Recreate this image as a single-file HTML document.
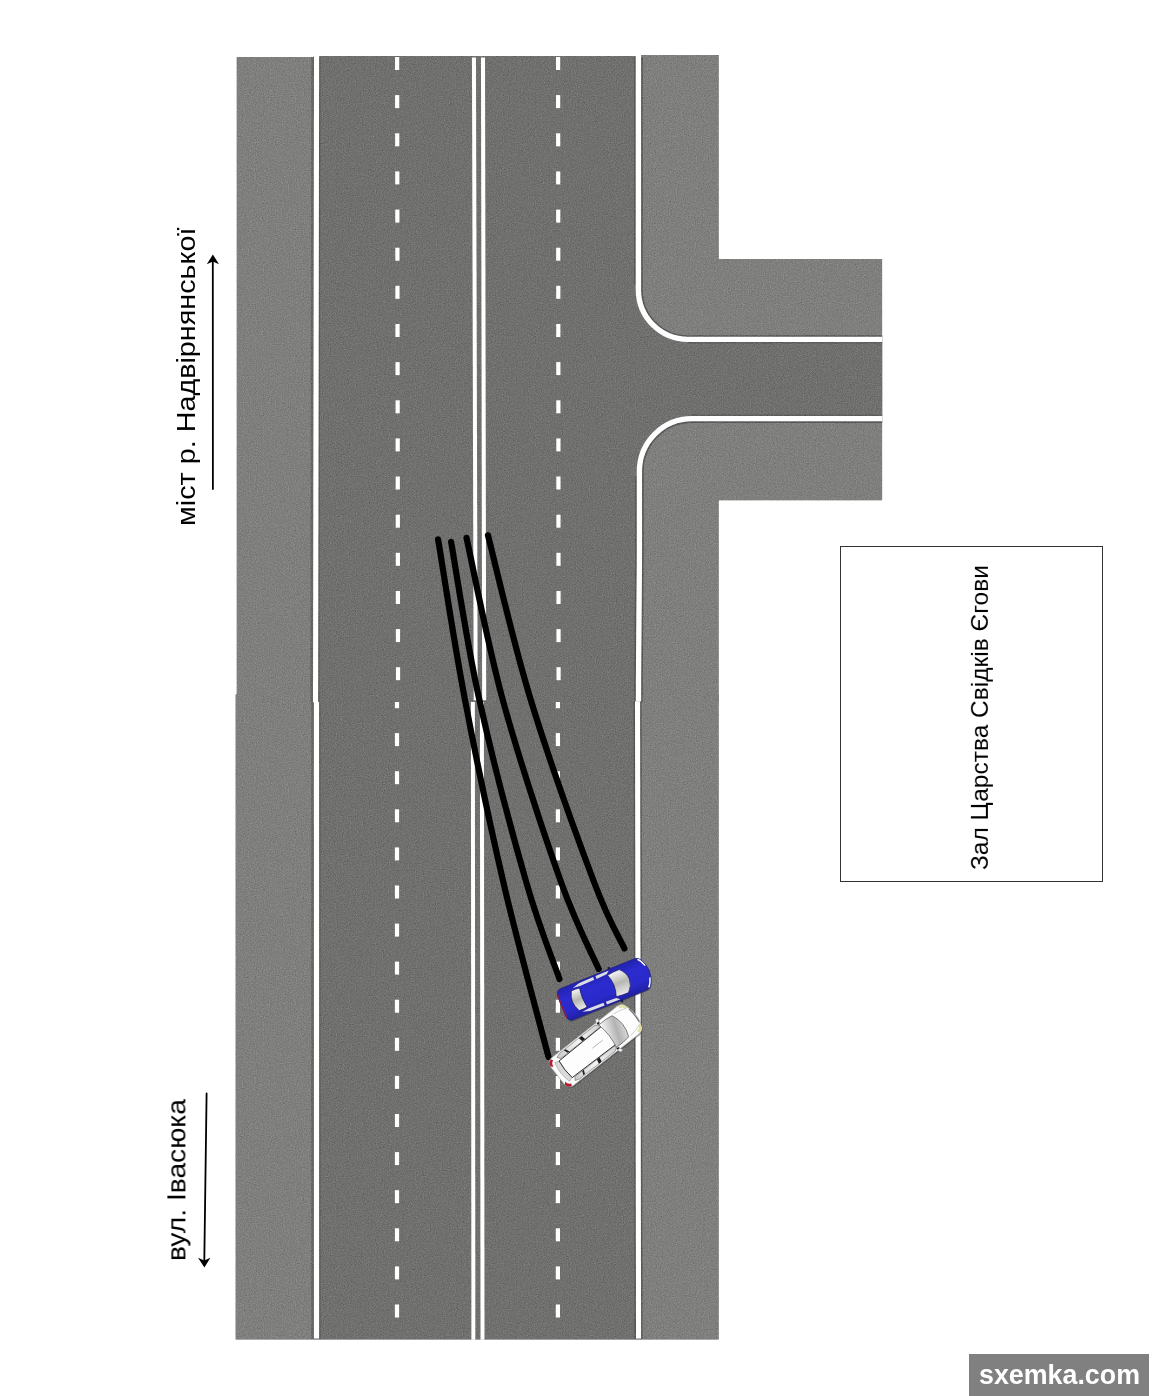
<!DOCTYPE html>
<html lang="uk">
<head>
<meta charset="utf-8">
<title>Схема ДТП</title>
<style>
html,body{margin:0;padding:0;background:#fff;}
body{width:1154px;height:1396px;overflow:hidden;font-family:"Liberation Sans",sans-serif;}
svg{display:block;}
</style>
</head>
<body>
<svg width="1154" height="1396" viewBox="0 0 1154 1396">
<rect width="1154" height="1396" fill="#fff"/>
<defs>
<filter id="grain" x="0" y="0" width="100%" height="100%" filterUnits="objectBoundingBox" color-interpolation-filters="sRGB">
<feTurbulence type="fractalNoise" baseFrequency="0.85" numOctaves="2" seed="7" stitchTiles="noStitch" result="n"/>
<feColorMatrix in="n" type="matrix" values="0.6 0.6 0 0 -0.1  0.6 0.6 0 0 -0.1  0.6 0.6 0 0 -0.1  0 0 0 0 1" result="g"/>
<feComposite in="SourceGraphic" in2="g" operator="arithmetic" k1="0" k2="1" k3="0.25" k4="-0.125" result="c"/>
<feComposite in="c" in2="SourceGraphic" operator="in"/>
</filter>
</defs>
<g id="asphalt" filter="url(#grain)">
<rect x="235.4" y="694.3" width="79" height="645.4" fill="#7f7f7e"/>
<rect x="314" y="700" width="327" height="639.7" fill="#70706f"/>
<rect x="640.5" y="694" width="78.3" height="645.7" fill="#7f7f7e"/>
<rect x="236.5" y="57" width="78" height="638" fill="#7f7f7e"/>
<rect x="313.5" y="56" width="328" height="646" fill="#70706f"/>
<path d="M641 55 H718.8 V259 H882.3 V500.4 H718.8 V702 H641 Z" fill="#7f7f7e"/>
<path d="M636 285 H641.5 V290 A46.5 46.5 0 0 0 688 336.7 H882.3 V421.3 H692 A50 50 0 0 0 642 471 V476 H636 Z" fill="#70706f"/>
<g fill="none" stroke="#555553" stroke-width="1.4" opacity="0.9">
<path d="M312.80 57 L311.80 702 M312.70 702 L312.75 1339" stroke-width="3" opacity="0.62"/>
<path d="M319.65 57 L318.65 702 M319.60 702 L319.65 1339" stroke-width="1.6"/>
<path d="M635 57 V285 M634.40 702 L635.40 1339 M640.70 702 L641.70 1339 M636 476 V560 L635.1 680 V702" stroke-width="1.8"/>
<path d="M641.9 57 V290 A46.1 46.1 0 0 0 688 336.1 H882.3" stroke-width="1.8"/>
<path d="M882.3 422.1 H692 A49.2 49.2 0 0 0 642.8 471.3 V560 L641.9 680 V702" stroke-width="1.8"/>
<path d="M688 342.7 H882.3 M692 415.3 H882.3" opacity="0.7"/>
</g>
</g>
<g id="lines" fill="#ffffff">
<path d="M313.90 702 H319.10 L319.15 1338.5 H313.95 Z"/>
<path d="M470.90 702 H474.85 L475.35 1339.7 H471.40 Z"/>
<path d="M479.90 702 H483.90 L484.50 1339.7 H480.50 Z"/>
<path d="M635.00 701.2 H640.10 L641.10 1338.5 H636.00 Z"/>
<path d="M314.00 56 H319.15 L318.15 702.2 H313.00 Z"/>
<path d="M471.95 57.5 H475.95 L477.70 700.2 H473.70 Z"/>
<path d="M480.97 57.5 H485.02 L486.21 700.2 H482.16 Z"/>
<path d="M638.4 56 V290 A49.6 49.6 0 0 0 688 339.4 H882.3" fill="none" stroke="#ffffff" stroke-width="5.4"/>
<path d="M882.3 418.7 H692 A52.6 52.6 0 0 0 639.4 471.3 V560 L638.5 680 V701.2" fill="none" stroke="#ffffff" stroke-width="5.3"/>
</g>
<g id="dashes" fill="#ffffff">
<rect x="395.00" y="57.0" width="4.2" height="13"/>
<rect x="395.06" y="95.1" width="4.2" height="13"/>
<rect x="395.12" y="133.3" width="4.2" height="13"/>
<rect x="395.18" y="171.4" width="4.2" height="13"/>
<rect x="395.24" y="209.6" width="4.2" height="13"/>
<rect x="395.30" y="247.7" width="4.2" height="13"/>
<rect x="395.36" y="285.8" width="4.2" height="13"/>
<rect x="395.42" y="324.0" width="4.2" height="13"/>
<rect x="395.48" y="362.1" width="4.2" height="13"/>
<rect x="395.54" y="400.3" width="4.2" height="13"/>
<rect x="395.60" y="438.4" width="4.2" height="13"/>
<rect x="395.66" y="476.5" width="4.2" height="13"/>
<rect x="395.72" y="514.7" width="4.2" height="13"/>
<rect x="395.77" y="552.8" width="4.2" height="13"/>
<rect x="395.83" y="591.0" width="4.2" height="13"/>
<rect x="395.89" y="629.1" width="4.2" height="13"/>
<rect x="395.95" y="667.2" width="4.2" height="13"/>
<rect x="394.9" y="702" width="4.2" height="6.2"/>
<rect x="394.9" y="733.1" width="4.2" height="13"/>
<rect x="394.9" y="771.2" width="4.2" height="13"/>
<rect x="394.9" y="809.3" width="4.2" height="13"/>
<rect x="394.9" y="847.4" width="4.2" height="13"/>
<rect x="394.9" y="885.5" width="4.2" height="13"/>
<rect x="394.9" y="923.6" width="4.2" height="13"/>
<rect x="394.9" y="961.6" width="4.2" height="13"/>
<rect x="394.9" y="999.7" width="4.2" height="13"/>
<rect x="394.9" y="1037.8" width="4.2" height="13"/>
<rect x="394.9" y="1075.9" width="4.2" height="13"/>
<rect x="394.9" y="1114.0" width="4.2" height="13"/>
<rect x="394.9" y="1152.1" width="4.2" height="13"/>
<rect x="394.9" y="1190.2" width="4.2" height="13"/>
<rect x="394.9" y="1228.3" width="4.2" height="13"/>
<rect x="394.9" y="1266.4" width="4.2" height="13"/>
<rect x="394.9" y="1304.5" width="4.2" height="13"/>
<rect x="556.00" y="57.0" width="4.2" height="13"/>
<rect x="556.03" y="95.1" width="4.2" height="13"/>
<rect x="556.06" y="133.3" width="4.2" height="13"/>
<rect x="556.09" y="171.4" width="4.2" height="13"/>
<rect x="556.12" y="209.6" width="4.2" height="13"/>
<rect x="556.15" y="247.7" width="4.2" height="13"/>
<rect x="556.18" y="285.8" width="4.2" height="13"/>
<rect x="556.21" y="324.0" width="4.2" height="13"/>
<rect x="556.24" y="362.1" width="4.2" height="13"/>
<rect x="556.27" y="400.3" width="4.2" height="13"/>
<rect x="556.30" y="438.4" width="4.2" height="13"/>
<rect x="556.33" y="476.5" width="4.2" height="13"/>
<rect x="556.36" y="514.7" width="4.2" height="13"/>
<rect x="556.39" y="552.8" width="4.2" height="13"/>
<rect x="556.42" y="591.0" width="4.2" height="13"/>
<rect x="556.45" y="629.1" width="4.2" height="13"/>
<rect x="556.48" y="667.2" width="4.2" height="13"/>
<rect x="555.8" y="702" width="4.2" height="6.2"/>
<rect x="555.8" y="733.1" width="4.2" height="13"/>
<rect x="555.8" y="771.2" width="4.2" height="13"/>
<rect x="555.8" y="809.3" width="4.2" height="13"/>
<rect x="555.8" y="847.4" width="4.2" height="13"/>
<rect x="555.8" y="885.5" width="4.2" height="13"/>
<rect x="555.8" y="923.6" width="4.2" height="13"/>
<rect x="555.8" y="961.6" width="4.2" height="13"/>
<rect x="555.8" y="999.7" width="4.2" height="13"/>
<rect x="555.8" y="1037.8" width="4.2" height="13"/>
<rect x="555.8" y="1075.9" width="4.2" height="13"/>
<rect x="555.8" y="1114.0" width="4.2" height="13"/>
<rect x="555.8" y="1152.1" width="4.2" height="13"/>
<rect x="555.8" y="1190.2" width="4.2" height="13"/>
<rect x="555.8" y="1228.3" width="4.2" height="13"/>
<rect x="555.8" y="1266.4" width="4.2" height="13"/>
<rect x="555.8" y="1304.5" width="4.2" height="13"/>
</g>
<g id="skids" fill="none" stroke="#000" stroke-width="6.2" stroke-linecap="round">
<path d="M438.1 539.3 C442.6 566.1 454.0 642.4 465.0 700.0 C476.0 757.6 490.1 825.5 504.0 885.0 C517.9 944.5 541.1 1028.3 548.5 1057.0"/>
<path d="M451.1 541.8 C455.8 568.2 466.8 643.1 479.4 700.0 C492.0 756.9 513.1 836.5 526.5 883.0 C539.9 929.5 554.0 963.0 559.5 979.0"/>
<path d="M466.5 537.8 C472.6 564.8 487.1 642.6 502.8 700.0 C518.5 757.4 545.0 837.2 561.0 882.0 C577.0 926.8 592.4 954.5 598.7 969.0"/>
<path d="M488.0 535.3 C495.1 562.8 513.1 642.2 530.8 700.0 C548.5 757.8 578.4 840.6 594.0 882.0 C609.6 923.4 619.3 937.4 624.4 948.5"/>
</g>
<defs>
<linearGradient id="gl1" x1="0" y1="0" x2="0" y2="1">
<stop offset="0" stop-color="#f6f6f6"/><stop offset="0.5" stop-color="#b6b6b2"/><stop offset="1" stop-color="#ececec"/>
</linearGradient>
<linearGradient id="gl2" x1="0" y1="0" x2="1" y2="0.6">
<stop offset="0" stop-color="#ffffff"/><stop offset="0.65" stop-color="#b2b2b2"/><stop offset="1" stop-color="#d4d4d4"/>
</linearGradient>
<linearGradient id="gl3" x1="0" y1="0" x2="0" y2="1">
<stop offset="0" stop-color="#2222ac"/><stop offset="0.3" stop-color="#2b2bcf"/><stop offset="0.7" stop-color="#2a2acb"/><stop offset="1" stop-color="#2020a4"/>
</linearGradient>
<linearGradient id="gl4" x1="0" y1="0" x2="1" y2="0">
<stop offset="0" stop-color="#c9c9c9"/><stop offset="0.5" stop-color="#f4f4f4"/><stop offset="1" stop-color="#cfcfcf"/>
</linearGradient>
</defs>
<g id="car-blue" transform="translate(604.9 988.8) rotate(-22)">
<path d="M-42 -16.8 H38.5 Q42.6 -16.6 44.4 -13 Q47.9 -6 47.9 0 Q47.9 6 44.4 13 Q42.6 16.6 38.5 16.8 H-42 Q-46 16.2 -46.6 10 V-10 Q-46 -16.2 -42 -16.8 Z" fill="#33334d" opacity="0.5" transform="translate(0.1 1.2)"/>
<path d="M-42 -16.8 H38.5 Q42.6 -16.6 44.4 -13 Q47.9 -6 47.9 0 Q47.9 6 44.4 13 Q42.6 16.6 38.5 16.8 H-42 Q-46 16.2 -46.6 10 V-10 Q-46 -16.2 -42 -16.8 Z" fill="url(#gl3)" stroke="#24247c" stroke-width="0.7"/>
<path d="M-46 -13 Q-47 0 -46 13" fill="none" stroke="#8c1f45" stroke-width="1.4"/>
<path d="M7.5 -11.6 Q15 -12.8 20.5 -12.4 Q26.2 -7 26.4 0 Q26.2 7 20.5 12.4 Q15 12.8 7.5 11.6 Q12 0 7.5 -11.6 Z" fill="url(#gl1)" stroke="#1c1c6a" stroke-width="0.7"/>
<path d="M-23.3 -10.3 Q-28 -10.9 -32 -10.6 Q-35 -5 -35 0 Q-35 5 -32 10.6 Q-28 10.9 -23.3 10.3 Q-25.2 0 -23.3 -10.3 Z" fill="url(#gl1)" stroke="#1c1c6a" stroke-width="0.7"/>
<path d="M-29.5 -12.8 L-22 -15 L-6.5 -15.4 L-6.5 -12.3 L-22 -12 Z M-4 -15.4 L10.5 -15.6 L7 -12.8 L-4 -12.3 Z" fill="#dcdce6"/>
<path d="M-29.5 12.8 L-22 15 L-6.5 15.4 L-6.5 12.3 L-22 12 Z M-4 15.4 L10.5 15.6 L7 12.8 L-4 12.3 Z" fill="#dcdce6"/>
<path d="M41.6 -15.6 Q44.8 -13 46.6 -6.5 L45.3 -6.2 Q43.6 -12 40.7 -14.6 Z" fill="#fff"/>
<path d="M41.6 15.6 Q44.8 13 46.6 6.5 L45.3 6.2 Q43.6 12 40.7 14.6 Z" fill="#fff"/>
<path d="M9.5 -16.4 l1.2 -2.6 l2 0.3 l-0.6 2.6 Z M9.5 16.4 l1.2 2.6 l2 -0.3 l-0.6 -2.6 Z" fill="#1a1a50"/>
</g>
<g id="car-white" transform="translate(596.6 1044.9) rotate(-38.2) scale(1.08 1.08)">
<path d="M-41 -16.3 H37 Q41.6 -16 43 -13 Q45.8 -5 45.8 0 Q45.8 5 43 13 Q41.6 16 37 16.3 H-41 Q-45.5 15.3 -46 9 V-9 Q-45.5 -15.3 -41 -16.3 Z" fill="#303030" opacity="0.45" transform="translate(0 1.3)"/>
<path d="M-41 -16.3 H37 Q41.6 -16 43 -13 Q45.8 -5 45.8 0 Q45.8 5 43 13 Q41.6 16 37 16.3 H-41 Q-45.5 15.3 -46 9 V-9 Q-45.5 -15.3 -41 -16.3 Z" fill="#fdfdfd" stroke="#b4b4b4" stroke-width="0.6"/>
<path d="M-45.8 -11 Q-45.4 -15 -41.5 -15.8 L-40.5 -13.4 Q-43.6 -12.8 -44 -8.6 Z" fill="#b01c30"/>
<path d="M-45.8 11 Q-45.4 15 -41.5 15.8 L-40.5 13.4 Q-43.6 12.8 -44 8.6 Z" fill="#b01c30"/>
<path d="M38.5 -16 Q41.6 -15.5 42.8 -12.6 L44.2 -8.6 L41.8 -9.6 Q40.6 -12.8 37.2 -13.4 Z" fill="#e3e1a8"/>
<path d="M38.5 16 Q41.6 15.5 42.8 12.6 L44.2 8.6 L41.8 9.6 Q40.6 12.8 37.2 13.4 Z" fill="#e3e1a8"/>
<path d="M44.2 -7.5 Q45.4 0 44.2 7.5" fill="none" stroke="#777" stroke-width="1.2"/>
<path d="M13 -13.2 Q22 -13.8 28 -12.4 Q33.6 0 28 12.4 Q22 13.8 13 13.2 Q16 0 13 -13.2 Z" fill="url(#gl2)" stroke="#444" stroke-width="0.55"/>
<path d="M-40.5 -11 Q-43.8 0 -40.5 11 L-36.5 9.6 Q-38.6 0 -36.5 -9.6 Z" fill="#dadada" stroke="#777" stroke-width="0.4"/>
<path d="M-36 -13.6 L-32 -15 L10 -15.2 L13 -13.2 L12 -11 L-34 -10.6 Z" fill="url(#gl4)" stroke="#555" stroke-width="0.45"/>
<path d="M-36 13.6 L-32 15 L10 15.2 L13 13.2 L12 11 L-34 10.6 Z" fill="url(#gl4)" stroke="#555" stroke-width="0.45"/>
<path d="M-36.5 -9.8 L13.5 -10.6 M-36.5 9.8 L13.5 10.6 M-36.5 -9.8 Q-38 0 -36.5 9.8" fill="none" stroke="#2a2a2a" stroke-width="0.8"/>
<path d="M-9 -15 l3.2 0 l0.8 4.2 l-3.2 0 Z M-9 15 l3.2 0 l0.8 -4.2 l-3.2 0 Z M-27 -14.6 l1.8 0 l1.6 3.8 l-1.8 0 Z M-27 14.6 l1.8 0 l1.6 -3.8 l-1.8 0 Z" fill="#1e1e1e"/>
<path d="M12 -15.8 l1.6 -3.2 l2.8 0.5 l-1.4 3 Z M12 15.8 l1.6 3.2 l2.8 -0.5 l-1.4 -3 Z" fill="#efefef" stroke="#888" stroke-width="0.3"/>
<path d="M12.5 -15.6 l2.6 0 l-0.4 1.6 l-2.4 0.2 Z M12.5 15.6 l2.6 0 l-0.4 -1.6 l-2.4 -0.2 Z" fill="#222"/>
<path d="M-5 0 H7" stroke="#8a8a8a" stroke-width="0.5"/>
<path d="M30 -12.8 Q37 -11.8 42.4 -10 M30 12.8 Q37 11.8 42.4 10" fill="none" stroke="#999" stroke-width="0.4"/>
</g>

<g id="labels" font-family="Liberation Sans, sans-serif" fill="#000" opacity="0.999">
<text transform="translate(195 526) rotate(-90) scale(1.0895 1)" font-size="26.4">міст р. Надвірнянської</text>
<text transform="translate(185.4 1261) rotate(-90) scale(1.089 1)" font-size="25.9">вул. Івасюка</text>
<text transform="translate(987.9 870) rotate(-90) scale(1.0565 1)" font-size="23.2">Зал Царства Свідків Єгови</text>
</g>
<g id="arrows" stroke="#000" stroke-width="1.8" fill="#000" stroke-linecap="round">
<line x1="212.9" y1="489" x2="212.8" y2="261"/>
<path d="M212.9 254.6 L219 264.2 L212.85 261.6 L206.8 264.2 Z" stroke="none"/>
<line x1="206.6" y1="1093.5" x2="204.3" y2="1261"/>
<path d="M204.4 1267.5 L198 1257.8 L204.3 1260.4 L210.4 1257.8 Z" stroke="none"/>
</g>
<rect x="840.5" y="546.5" width="262" height="335" fill="none" stroke="#333" stroke-width="1"/>
<rect x="969" y="1354" width="180" height="42" fill="#808080"/>
<defs><filter id="nf" x="-5%" y="-20%" width="110%" height="140%"><feOffset dx="0" dy="0"/></filter></defs>
<text filter="url(#nf)" transform="translate(979.0 1384) scale(0.983 1)" font-family="Liberation Sans, sans-serif" font-weight="bold" font-size="27.3" fill="#fff">sxemka.com</text>
</svg>
</body>
</html>
